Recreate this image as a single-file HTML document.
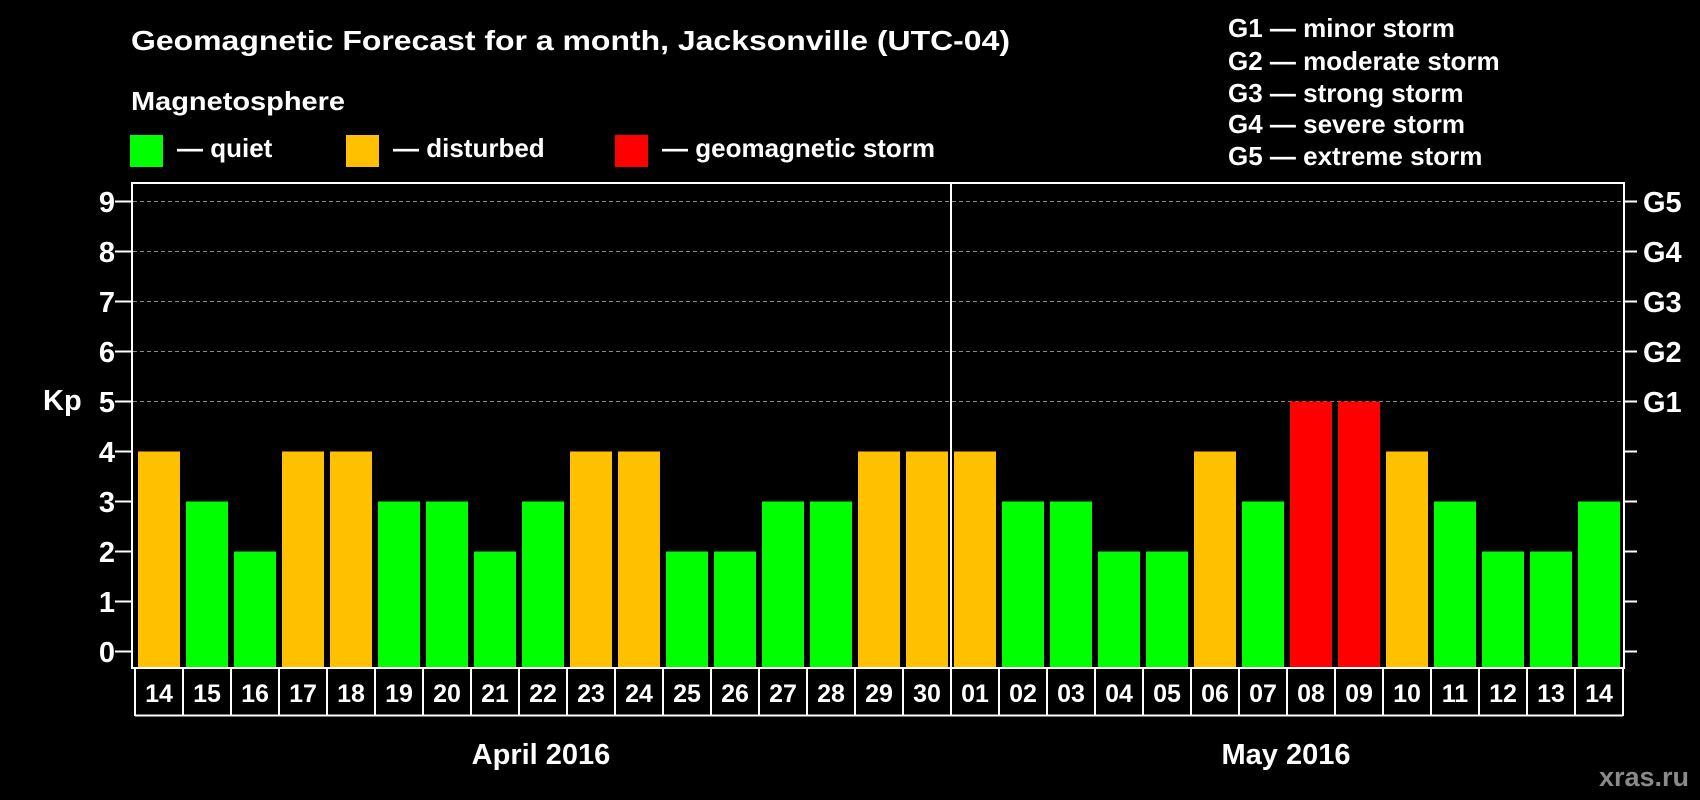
<!DOCTYPE html>
<html><head><meta charset="utf-8"><style>
html,body{margin:0;padding:0;background:#000;}
svg{display:block;}
text{font-family:"Liberation Sans",Arial,sans-serif;font-weight:bold;fill:#fff;}
</style></head><body>
<svg width="1700" height="800" viewBox="0 0 1700 800" xmlns="http://www.w3.org/2000/svg">
<rect width="1700" height="800" fill="#000"/>
<text x="131" y="50" font-size="28" textLength="879" lengthAdjust="spacingAndGlyphs">Geomagnetic Forecast for a month, Jacksonville (UTC-04)</text>
<text x="131" y="110" font-size="26" textLength="214" lengthAdjust="spacingAndGlyphs">Magnetosphere</text>
<rect x="130" y="135" width="33" height="32" fill="#00ff00"/>
<text x="177" y="157" font-size="26">— quiet</text>
<rect x="346" y="135" width="33" height="32" fill="#ffc000"/>
<text x="393" y="157" font-size="26">— disturbed</text>
<rect x="615" y="135" width="33" height="32" fill="#ff0000"/>
<text x="662" y="157" font-size="26">— geomagnetic storm</text>
<g font-size="26">
<text x="1228" y="37">G1 — minor storm</text>
<text x="1228" y="70">G2 — moderate storm</text>
<text x="1228" y="102">G3 — strong storm</text>
<text x="1228" y="133">G4 — severe storm</text>
<text x="1228" y="165">G5 — extreme storm</text>
</g>
<g stroke="#888" stroke-width="1" stroke-dasharray="4,3">
<line x1="133" y1="201.5" x2="1623" y2="201.5"/>
<line x1="133" y1="251.5" x2="1623" y2="251.5"/>
<line x1="133" y1="301.5" x2="1623" y2="301.5"/>
<line x1="133" y1="351.5" x2="1623" y2="351.5"/>
<line x1="133" y1="401.5" x2="1623" y2="401.5"/>
</g>
<g>
<rect x="138" y="451.5" width="42" height="216" fill="#ffc000"/>
<rect x="186" y="501.5" width="42" height="166" fill="#00ff00"/>
<rect x="234" y="551.5" width="42" height="116" fill="#00ff00"/>
<rect x="282" y="451.5" width="42" height="216" fill="#ffc000"/>
<rect x="330" y="451.5" width="42" height="216" fill="#ffc000"/>
<rect x="378" y="501.5" width="42" height="166" fill="#00ff00"/>
<rect x="426" y="501.5" width="42" height="166" fill="#00ff00"/>
<rect x="474" y="551.5" width="42" height="116" fill="#00ff00"/>
<rect x="522" y="501.5" width="42" height="166" fill="#00ff00"/>
<rect x="570" y="451.5" width="42" height="216" fill="#ffc000"/>
<rect x="618" y="451.5" width="42" height="216" fill="#ffc000"/>
<rect x="666" y="551.5" width="42" height="116" fill="#00ff00"/>
<rect x="714" y="551.5" width="42" height="116" fill="#00ff00"/>
<rect x="762" y="501.5" width="42" height="166" fill="#00ff00"/>
<rect x="810" y="501.5" width="42" height="166" fill="#00ff00"/>
<rect x="858" y="451.5" width="42" height="216" fill="#ffc000"/>
<rect x="906" y="451.5" width="42" height="216" fill="#ffc000"/>
<rect x="954" y="451.5" width="42" height="216" fill="#ffc000"/>
<rect x="1002" y="501.5" width="42" height="166" fill="#00ff00"/>
<rect x="1050" y="501.5" width="42" height="166" fill="#00ff00"/>
<rect x="1098" y="551.5" width="42" height="116" fill="#00ff00"/>
<rect x="1146" y="551.5" width="42" height="116" fill="#00ff00"/>
<rect x="1194" y="451.5" width="42" height="216" fill="#ffc000"/>
<rect x="1242" y="501.5" width="42" height="166" fill="#00ff00"/>
<rect x="1290" y="401.5" width="42" height="266" fill="#ff0000"/>
<rect x="1338" y="401.5" width="42" height="266" fill="#ff0000"/>
<rect x="1386" y="451.5" width="42" height="216" fill="#ffc000"/>
<rect x="1434" y="501.5" width="42" height="166" fill="#00ff00"/>
<rect x="1482" y="551.5" width="42" height="116" fill="#00ff00"/>
<rect x="1530" y="551.5" width="42" height="116" fill="#00ff00"/>
<rect x="1578" y="501.5" width="42" height="166" fill="#00ff00"/>
</g>
<g stroke="#fff" stroke-width="2" fill="none">
<rect x="132" y="183" width="1492" height="485"/>
<line x1="951" y1="183" x2="951" y2="668"/>
<line x1="135" y1="715.5" x2="1623" y2="715.5"/>
</g>
<g stroke="#fff" stroke-width="2">
<line x1="115" y1="201.5" x2="132" y2="201.5"/><line x1="115" y1="251.5" x2="132" y2="251.5"/>
<line x1="115" y1="301.5" x2="132" y2="301.5"/><line x1="115" y1="351.5" x2="132" y2="351.5"/>
<line x1="115" y1="401.5" x2="132" y2="401.5"/><line x1="115" y1="451.5" x2="132" y2="451.5"/>
<line x1="115" y1="501.5" x2="132" y2="501.5"/><line x1="115" y1="551.5" x2="132" y2="551.5"/>
<line x1="115" y1="601.5" x2="132" y2="601.5"/><line x1="115" y1="651.5" x2="132" y2="651.5"/>
<line x1="1624" y1="201.5" x2="1637" y2="201.5"/><line x1="1624" y1="251.5" x2="1637" y2="251.5"/>
<line x1="1624" y1="301.5" x2="1637" y2="301.5"/><line x1="1624" y1="351.5" x2="1637" y2="351.5"/>
<line x1="1624" y1="401.5" x2="1637" y2="401.5"/><line x1="1624" y1="451.5" x2="1637" y2="451.5"/>
<line x1="1624" y1="501.5" x2="1637" y2="501.5"/><line x1="1624" y1="551.5" x2="1637" y2="551.5"/>
<line x1="1624" y1="601.5" x2="1637" y2="601.5"/><line x1="1624" y1="651.5" x2="1637" y2="651.5"/>
</g>
<g stroke="#fff" stroke-width="2">
<line x1="135" y1="668" x2="135" y2="716"/><line x1="183" y1="668" x2="183" y2="716"/><line x1="231" y1="668" x2="231" y2="716"/><line x1="279" y1="668" x2="279" y2="716"/><line x1="327" y1="668" x2="327" y2="716"/><line x1="375" y1="668" x2="375" y2="716"/><line x1="423" y1="668" x2="423" y2="716"/><line x1="471" y1="668" x2="471" y2="716"/><line x1="519" y1="668" x2="519" y2="716"/><line x1="567" y1="668" x2="567" y2="716"/><line x1="615" y1="668" x2="615" y2="716"/><line x1="663" y1="668" x2="663" y2="716"/><line x1="711" y1="668" x2="711" y2="716"/><line x1="759" y1="668" x2="759" y2="716"/><line x1="807" y1="668" x2="807" y2="716"/><line x1="855" y1="668" x2="855" y2="716"/><line x1="903" y1="668" x2="903" y2="716"/><line x1="951" y1="668" x2="951" y2="716"/><line x1="999" y1="668" x2="999" y2="716"/><line x1="1047" y1="668" x2="1047" y2="716"/><line x1="1095" y1="668" x2="1095" y2="716"/><line x1="1143" y1="668" x2="1143" y2="716"/><line x1="1191" y1="668" x2="1191" y2="716"/><line x1="1239" y1="668" x2="1239" y2="716"/><line x1="1287" y1="668" x2="1287" y2="716"/><line x1="1335" y1="668" x2="1335" y2="716"/><line x1="1383" y1="668" x2="1383" y2="716"/><line x1="1431" y1="668" x2="1431" y2="716"/><line x1="1479" y1="668" x2="1479" y2="716"/><line x1="1527" y1="668" x2="1527" y2="716"/><line x1="1575" y1="668" x2="1575" y2="716"/><line x1="1623" y1="668" x2="1623" y2="716"/>
</g>
<g font-size="29" text-anchor="end">
<text x="115" y="212">9</text><text x="115" y="262">8</text><text x="115" y="312">7</text><text x="115" y="362">6</text><text x="115" y="412">5</text><text x="115" y="462">4</text><text x="115" y="512">3</text><text x="115" y="562">2</text><text x="115" y="612">1</text><text x="115" y="662">0</text>
</g>
<text x="43" y="410" font-size="29">Kp</text>
<g font-size="29">
<text x="1643" y="212">G5</text><text x="1643" y="262">G4</text><text x="1643" y="312">G3</text><text x="1643" y="362">G2</text><text x="1643" y="412">G1</text>
</g>
<g font-size="25" text-anchor="middle">
<text x="159" y="702">14</text><text x="207" y="702">15</text><text x="255" y="702">16</text><text x="303" y="702">17</text><text x="351" y="702">18</text><text x="399" y="702">19</text><text x="447" y="702">20</text><text x="495" y="702">21</text><text x="543" y="702">22</text><text x="591" y="702">23</text><text x="639" y="702">24</text><text x="687" y="702">25</text><text x="735" y="702">26</text><text x="783" y="702">27</text><text x="831" y="702">28</text><text x="879" y="702">29</text><text x="927" y="702">30</text><text x="975" y="702">01</text><text x="1023" y="702">02</text><text x="1071" y="702">03</text><text x="1119" y="702">04</text><text x="1167" y="702">05</text><text x="1215" y="702">06</text><text x="1263" y="702">07</text><text x="1311" y="702">08</text><text x="1359" y="702">09</text><text x="1407" y="702">10</text><text x="1455" y="702">11</text><text x="1503" y="702">12</text><text x="1551" y="702">13</text><text x="1599" y="702">14</text>
</g>
<text x="541" y="764" font-size="29" text-anchor="middle">April 2016</text>
<text x="1286" y="764" font-size="29" text-anchor="middle">May 2016</text>
<text x="1689" y="786" font-size="27" text-anchor="end" style="fill:#8a8a8a">xras.ru</text>
</svg>
</body></html>
